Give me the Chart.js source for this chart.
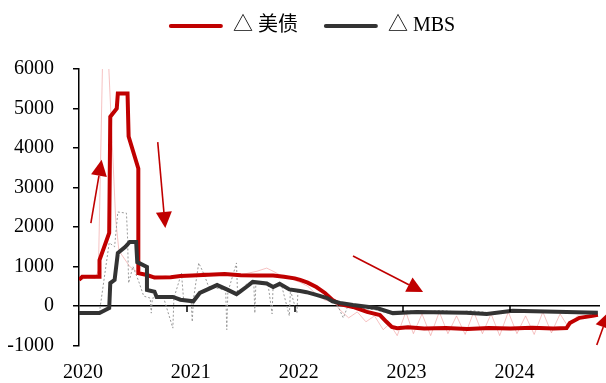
<!DOCTYPE html>
<html>
<head>
<meta charset="utf-8">
<script src="https://cdn.jsdelivr.net/npm/chart.js@4.4.1/dist/chart.umd.min.js"></script>
<style>
    html, body { margin: 0; padding: 0; background: #fff; }
    #wrap { width: 606px; height: 383px; position: relative; }
</style>
</head>
<body>
<div id="wrap"><canvas id="flows"></canvas></div>
<script>
// year ticks on the x axis
const yearTicks = [2020, 2021, 2022, 2023, 2024];

// △ 美债 (thick red, smoothed)
const tsyT = [2020.00, 2020.03, 2020.19, 2020.19, 2020.28, 2020.29, 2020.35, 2020.36, 2020.45, 2020.46, 2020.55, 2020.55, 2020.63, 2020.70,
    2020.85, 2020.94, 2021.05, 2021.20, 2021.35, 2021.50, 2021.65, 2021.80, 2021.90, 2022.00, 2022.05, 2022.12, 2022.20, 2022.28,
    2022.35, 2022.42, 2022.54, 2022.67, 2022.79, 2022.85, 2022.90, 2022.95, 2023.05, 2023.20, 2023.40, 2023.60, 2023.80, 2024.00,
    2024.20, 2024.40, 2024.52, 2024.55, 2024.64, 2024.76, 2024.81];
const tsyV = [660, 740, 740, 1165, 1850, 4790, 5000, 5380, 5380, 4290, 3480, 830, 785, 720,
    730, 760, 770, 790, 810, 780, 770, 770, 740, 700, 660, 590, 480, 330,
    150, 50, -25, -150, -230, -400, -530, -560, -540, -570, -560, -580, -560, -570,
    -550, -570, -560, -430, -300, -250, -220];

// △ MBS (thick black, smoothed)
const mbsT = [2020.00, 2020.19, 2020.28, 2020.29, 2020.33, 2020.36, 2020.43, 2020.47, 2020.53, 2020.54, 2020.63, 2020.63, 2020.70, 2020.72,
    2020.87, 2020.94, 2021.06, 2021.12, 2021.28, 2021.37, 2021.46, 2021.49, 2021.56, 2021.61, 2021.74, 2021.80, 2021.86, 2021.95,
    2022.05, 2022.11, 2022.20, 2022.30, 2022.35, 2022.42, 2022.54, 2022.76, 2022.91, 2023.13, 2023.59, 2023.78, 2024.02, 2024.52, 2024.81];
const mbsV = [-180, -180, -50, 580, 660, 1340, 1500, 1620, 1620, 1110, 990, 405, 360, 230,
    230, 160, 120, 330, 530, 420, 300, 360, 500, 610, 570, 480, 560, 420,
    380, 350, 280, 200, 120, 75, 25, -50, -180, -150, -170, -200, -120, -150, -170];

// △ 美债 weekly (thin pink)
const tsyWkT = [2020.00, 2020.08, 2020.15, 2020.18, 2020.22, 2020.27, 2020.30, 2020.34, 2020.37, 2020.42, 2020.47, 2020.52, 2020.58, 2020.64,
    2020.72, 2020.80, 2020.90, 2021.00, 2021.08, 2021.15, 2021.25, 2021.35, 2021.45, 2021.55, 2021.65, 2021.74, 2021.80, 2021.88,
    2021.95, 2022.05, 2022.12, 2022.20, 2022.28, 2022.36, 2022.42, 2022.50, 2022.58, 2022.66, 2022.74, 2022.82, 2022.88, 2022.95,
    2023.03, 2023.10, 2023.18, 2023.26, 2023.34, 2023.42, 2023.50, 2023.58, 2023.66, 2023.74, 2023.82, 2023.90, 2023.98, 2024.06,
    2024.14, 2024.22, 2024.30, 2024.38, 2024.46, 2024.54, 2024.62, 2024.70, 2024.80];
const tsyWkV = [650, 720, 700, 900, 6400, 6400, 4600, 2200, 1400, 1200, 1000, 900, 820, 780,
    720, 760, 720, 800, 760, 850, 800, 830, 780, 820, 880, 960, 880, 760,
    700, 600, 500, 300, 150, 100, -100, -300, -150, -400, -250, -600, -450, -750,
    -150, -700, -200, -750, -150, -700, -250, -720, -150, -700, -200, -750, -150, -700,
    -250, -720, -150, -680, -200, -550, -250, -300, -200];

// △ MBS weekly (thin grey dotted)
const mbsWkT = [2020.00, 2020.19, 2020.28, 2020.33, 2020.36, 2020.44, 2020.45, 2020.46, 2020.50, 2020.55, 2020.60, 2020.66, 2020.67, 2020.68,
    2020.78, 2020.87, 2020.88, 2020.95, 2020.97, 2021.04, 2021.05, 2021.06, 2021.11, 2021.16, 2021.20, 2021.28, 2021.36, 2021.37,
    2021.38, 2021.46, 2021.47, 2021.55, 2021.62, 2021.63, 2021.64, 2021.75, 2021.79, 2021.80, 2021.88, 2021.95, 2021.96, 2022.02,
    2022.03, 2022.15, 2022.30, 2022.40, 2022.45, 2022.50, 2022.60, 2022.75, 2022.90, 2023.05, 2023.20, 2023.35, 2023.50, 2023.65,
    2023.80, 2023.95, 2024.10, 2024.25, 2024.40, 2024.55, 2024.70, 2024.81];
const mbsWkV = [-200, -150, 1600, 1500, 2380, 2350, 1750, 580, 1000, 650, 250, 200, -180, 200,
    250, -560, 200, 830, 150, 100, -400, 150, 1090, 800, 500, 450, 400, -600,
    350, 1090, 300, 550, 650, -180, 600, 600, -200, 550, 500, -250, 400, -180,
    380, 300, 200, 0, -300, 50, -50, -100, -200, -120, -160, -110, -150, -120,
    -170, -130, -100, -140, -130, -160, -140, -170];

// trend arrows: [from year, from value, to year, to value]
const trendArrows = [
    [2020.11, 2100, 2020.21, 3700],
    [2020.73, 4150, 2020.80, 1975],
    [2022.54, 1265, 2023.19, 355],
    [2024.80, -990, 2024.91, -150]
];

const toPoints = (ts, vs) => ts.map((t, i) => ({ x: t, y: vs[i] }));
const FONT = "'Liberation Serif', 'Times New Roman', 'Noto Sans CJK SC', serif";
const RED = '#c00000';

// legend: tall box so the plot starts at the right height, and nudged right a bit
const legendSpacer = {
    id: 'legendSpacer',
    beforeInit(chart) {
        const fit = chart.legend.fit;
        chart.legend.fit = function () {
            fit.bind(chart.legend)();
            this.height = 69;
        };
    },
    afterLayout(chart) {
        chart.legend.left += 24;
    }
};

// small year ticks hanging under the zero line + the trend arrows
const decorations = {
    id: 'decorations',
    afterDraw(chart) {
        const { ctx } = chart;
        const xs = chart.scales.x, ys = chart.scales.y;
        const y0 = ys.getPixelForValue(0);
        ctx.save();
        ctx.strokeStyle = '#000';
        ctx.lineWidth = 1.5;
        yearTicks.slice(1).forEach(yr => {
            const x = Math.round(xs.getPixelForValue(yr));
            ctx.beginPath();
            ctx.moveTo(x, y0);
            ctx.lineTo(x, y0 + 6);
            ctx.stroke();
        });

        ctx.strokeStyle = RED;
        ctx.fillStyle = RED;
        trendArrows.forEach(([t0, v0, t1, v1]) => {
            const x0 = xs.getPixelForValue(t0), py0 = ys.getPixelForValue(v0);
            const x1 = xs.getPixelForValue(t1), py1 = ys.getPixelForValue(v1);
            const a = Math.atan2(py1 - py0, x1 - x0);
            const len = 16, half = 8;
            const bx = x1 - len * Math.cos(a), by = py1 - len * Math.sin(a);
            ctx.lineWidth = 1.6;
            ctx.beginPath();
            ctx.moveTo(x0, py0);
            ctx.lineTo(bx, by);
            ctx.stroke();
            ctx.beginPath();
            ctx.moveTo(x1, py1);
            ctx.lineTo(bx + half * Math.sin(a), by - half * Math.cos(a));
            ctx.lineTo(bx - half * Math.sin(a), by + half * Math.cos(a));
            ctx.closePath();
            ctx.fill();
        });
        ctx.restore();
    }
};

new Chart(document.getElementById('flows').getContext('2d'), {
    type: 'line',
    data: {
        datasets: [
            { label: '△ 美债', data: toPoints(tsyT, tsyV), borderColor: RED, backgroundColor: RED, borderWidth: 4, order: 1 },
            { label: '△ MBS', data: toPoints(mbsT, mbsV), borderColor: '#333333', backgroundColor: '#333333', borderWidth: 4, order: 0 },
            { label: 'tsy weekly', data: toPoints(tsyWkT, tsyWkV), borderColor: 'rgba(236,120,120,0.45)', borderWidth: 1, order: 3 },
            { label: 'mbs weekly', data: toPoints(mbsWkT, mbsWkV), borderColor: '#9a9a9a', borderWidth: 1, borderDash: [2, 2], order: 2 }
        ]
    },
    options: {
        responsive: true,
        maintainAspectRatio: false,
        animation: false,
        layout: { padding: { left: 0, right: 6, top: 0, bottom: 0 } },
        elements: { point: { radius: 0 }, line: { tension: 0, borderJoinStyle: 'miter' } },
        plugins: {
            tooltip: { enabled: false },
            legend: {
                position: 'top',
                labels: {
                    boxWidth: 54,
                    boxHeight: 4,
                    useBorderRadius: true,
                    borderRadius: 2,
                    padding: 16,
                    color: '#000',
                    font: { family: FONT, size: 20 },
                    generateLabels: chart => chart.data.datasets.slice(0, 2).map((ds, i) => ({
                        text: ds.label + (i === 0 ? '  ' : ''),
                        fillStyle: ds.borderColor,
                        strokeStyle: ds.borderColor,
                        lineWidth: 0,
                        borderRadius: 2,
                        fontColor: '#000',
                        hidden: false,
                        datasetIndex: i
                    }))
                }
            }
        },
        scales: {
            x: {
                type: 'linear',
                min: 2020,
                max: 2024.83,
                afterBuildTicks: s => { s.ticks = yearTicks.map(v => ({ value: v })); },
                afterFit: s => { s.height = 37.5; },
                grid: { display: false },
                border: { display: false },
                ticks: { color: '#000', font: { family: FONT, size: 20 }, padding: 7, labelOffset: 4, maxRotation: 0, callback: v => String(v) }
            },
            y: {
                min: -1000,
                max: 6000,
                afterFit: s => { s.width = 79; },
                grid: {
                    color: c => (c.tick && c.tick.value === 0 ? '#000' : 'rgba(0,0,0,0)'),
                    lineWidth: 1.5,
                    tickColor: '#000',
                    tickWidth: 1.5,
                    tickLength: 6
                },
                border: { color: '#000', width: 1.5 },
                ticks: { stepSize: 1000, color: '#000', font: { family: FONT, size: 20 }, padding: 19, callback: v => String(v) }
            }
        }
    },
    plugins: [legendSpacer, decorations]
});
</script>
</body>
</html>
